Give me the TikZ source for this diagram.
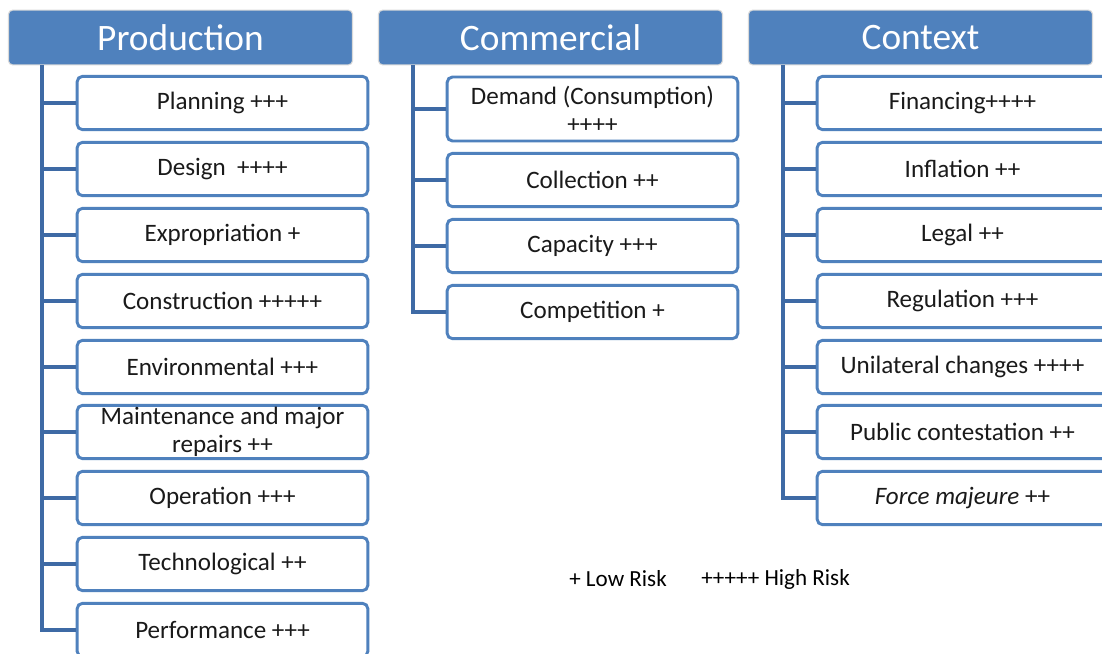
\documentclass[tikz,border=0pt]{standalone}
\usepackage{fontspec}
\setmainfont{Carlito}
\definecolor{hdrblue}{RGB}{79,129,189}
\definecolor{lineblue}{RGB}{62,106,165}
\definecolor{txtgray}{RGB}{26,26,26}
\tikzset{
  header/.style={draw=black!15, line width=0.8pt, fill=hdrblue, rounded corners=3pt,
    minimum width=258pt, minimum height=41pt, inner sep=0pt, text=white, font=\fontsize{28}{30}\selectfont},
  riskbox/.style={draw=hdrblue, line width=2.2pt, fill=white, rounded corners=4pt,
    minimum width=218pt, minimum height=40pt, inner sep=0pt, align=center,
    text=txtgray, font=\fontsize{18.8}{21}\selectfont},
  trunk/.style={draw=lineblue, line width=2.6pt},
  legend/.style={inner sep=0pt, text=black, font=\fontsize{17.3}{19}\selectfont}
}
\begin{document}
\begin{tikzpicture}[x=0.75pt,y=0.75pt,yscale=-1,xscale=1]
\clip (0,0) rectangle (1102,653);
\path[fill=white] (0,0) rectangle (1102,653);

% Headers
\node[header] (prod) at (180.5,37.5) {Production};
\node[header] (comm) at (550.5,37.5) {Commercial};
\node[header] (ctx) at (920.5,37.5) {Context};

% Production
\node[riskbox] (plan) at (222.5,103) {Planning +++};
\node[riskbox] (desg) at (222.5,169) {Design\ \ ++++};
\node[riskbox] (expr) at (222.5,235) {Expropriation +};
\node[riskbox] (cons) at (222.5,301) {Construction +++++};
\node[riskbox] (envi) at (222.5,367) {Environmental +++};
\node[riskbox] (mant) at (222.5,432) {Maintenance and major\\repairs ++};
\node[riskbox] (oper) at (222.5,498) {Operation +++};
\node[riskbox] (tech) at (222.5,564) {Technological ++};
\node[riskbox] (perf) at (222.5,630) {Performance +++};

% Commercial
\node[riskbox, minimum height=48pt] (dmnd) at (592.5,109) {Demand (Consumption)\\++++};
\node[riskbox] (coll) at (592.5,180) {Collection ++};
\node[riskbox] (capa) at (592.5,246) {Capacity +++};
\node[riskbox] (comp) at (592.5,312) {Competition +};

% Context
\node[riskbox] (fina) at (962.5,103) {Financing++++};
\node[riskbox] (infl) at (962.5,169) {Inflation ++};
\node[riskbox] (legl) at (962.5,235) {Legal ++};
\node[riskbox] (regu) at (962.5,301) {Regulation +++};
\node[riskbox] (unil) at (962.5,367) {Unilateral changes ++++};
\node[riskbox] (publ) at (962.5,432) {Public contestation ++};
\node[riskbox] (forc) at (962.5,498) {\textit{Force majeure} ++};

% Trunk lines
\coordinate (pt) at (42,65);
\coordinate (ct) at (413,65);
\coordinate (xt) at (783,65);
\draw[trunk] (pt) |- (perf.west);
\foreach \n in {plan,desg,expr,cons,envi,mant,oper,tech}
  \draw[trunk] (pt |- \n.west) -- (\n.west);
\draw[trunk] (ct) |- (comp.west);
\foreach \n in {dmnd,coll,capa}
  \draw[trunk] (ct |- \n.west) -- (\n.west);
\draw[trunk] (xt) |- (forc.west);
\foreach \n in {fina,infl,legl,regu,unil,publ}
  \draw[trunk] (xt |- \n.west) -- (\n.west);

% Legend
\node[legend, anchor=west] (lowr) at (569,579) {+ Low Risk};
\node[legend, anchor=west] (higr) at (701,579) {+++++ High Risk};
\end{tikzpicture}
\end{document}
